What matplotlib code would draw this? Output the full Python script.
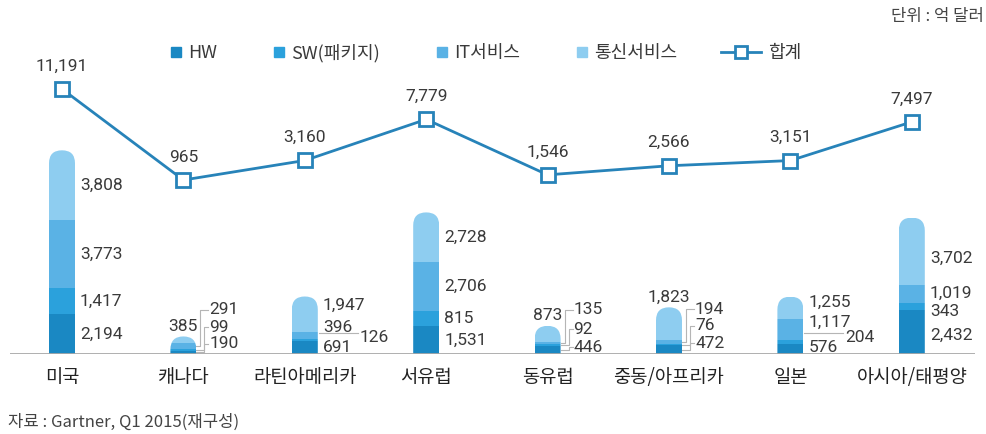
import numpy as np
import matplotlib
matplotlib.use("Agg")
import matplotlib.pyplot as plt
from matplotlib.patches import FancyBboxPatch
from matplotlib.lines import Line2D

plt.rcParams["font.family"] = ["Noto Sans CJK KR", "DejaVu Sans"]

# Data (억 달러)

categories = ["미국", "캐나다", "라틴아메리카", "서유럽",
              "동유럽", "중동/아프리카", "일본", "아시아/태평양"]
hw = [2194, 190, 691, 1531, 446, 472, 576, 2432]
sw = [1417, 99, 126, 815, 92, 76, 204, 343]
it_svc = [3773, 291, 396, 2706, 135, 194, 1117, 1019]
telecom = [3808, 385, 1947, 2728, 873, 1823, 1255, 3702]
totals = [11191, 965, 3160, 7779, 1546, 2566, 3151, 7497]

series_names = ["HW", "SW(패키지)", "IT서비스", "통신서비스"]
colors = ["#1a88c3", "#2ba1dc", "#5ab2e5", "#8ecdf0"]
line_color = "#2783b9"
text_color = "#3a3a3a"
num_font = ["Roboto", "DejaVu Sans"]
num_size = 12.5

# label placement per bar: (kind, px above baseline); None = segment middle
label_spots = [
    [None, None, None, None],
    [("bracket", 10), ("bracket", 27), ("bracket", 44), ("top", 0)],
    [("right", 7), ("far", 17), ("right", 27), ("right", 49)],
    [None, None, None, None],
    [("bracket", 7), ("bracket", 25), ("bracket", 44), ("top", 0)],
    [("bracket", 11), ("bracket", 28), ("bracket", 45), ("top", 0)],
    [("right", 7), ("far", 17), ("right", 32), ("right", 52)],
    [("right", 19), ("right", 42), ("right", 61), ("right", 96)],
]

# Layout in pixels

W, H = 986, 434
base_px, top_px = 354, 60
left_px, right_px = 10, 975
x0_px, cat_px = 62, 121.4
bar_scale = 0.0182          # px per unit (bars)
line_scale = 91 / 10226     # px per unit (total line)
line_zero_px = 188.6

fig = plt.figure(figsize=(W / 100, H / 100), dpi=100)
ax = fig.add_axes([left_px / W, 1 - base_px / H,
                   (right_px - left_px) / W, (base_px - top_px) / H])

ax.set_xlim((left_px - x0_px) / cat_px, (right_px - x0_px) / cat_px)
ax.set_ylim(0, (base_px - top_px) / bar_scale)

xu = 1 / cat_px
yu = 1 / bar_scale
x = np.arange(len(categories))
bw = 26 * xu

stack = [np.array(s) for s in (hw, sw, it_svc, telecom)]
bar_tops = np.sum(stack, axis=0)

# capsule shaped clip for each bar

caps = []
for i in range(len(x)):
    cap = FancyBboxPatch(
        (x[i] - bw / 2, -20 * yu), bw, bar_tops[i] + 20 * yu,
        boxstyle=f"round,pad=0,rounding_size={bw / 2}",
        mutation_aspect=yu / xu,
        transform=ax.transData
    )
    caps.append(cap)

bottom = np.zeros(len(x))
mids = []
for vals, c, name in zip(stack, colors, series_names):
    bars = ax.bar(x, vals, bw, bottom=bottom, color=c,
                  linewidth=0, zorder=2)
    for i, b in enumerate(bars):
        b.set_clip_path(caps[i])
    mids.append(bottom + vals / 2)
    bottom = bottom + vals

ax.axhline(0, color="#a8a8a8", lw=2, zorder=3)

# segment value labels

lead_kw = dict(color="#b5b5b5", lw=0.8, clip_on=False, zorder=1)
txt_kw = dict(va="center", fontsize=num_size, family=num_font,
              color=text_color)
for i in range(len(x)):
    xr = x[i] + bw / 2
    for j, vals in enumerate(stack):
        txt = f"{vals[i]:,}"
        spot = label_spots[i][j]
        kind, h = spot if spot else ("right", None)
        ly = mids[j][i] if h is None else h * yu
        if kind == "top":
            ax.text(x[i], bar_tops[i] + 10 * yu, txt, ha="center",
                    **txt_kw)
        elif kind == "right":
            ax.text(xr + 5 * xu, ly, txt, ha="left", **txt_kw)
        elif kind == "far":
            ax.plot([xr + 1 * xu, xr + 40 * xu],
                    [ly + 4 * yu, ly + 4 * yu], **lead_kw)
            ax.text(xr + 42 * xu, ly, txt, ha="left", **txt_kw)
        elif kind == "bracket":
            xv = xr + (4 if j == 2 else 8) * xu
            ax.plot([xr, xv, xv, xr + 12 * xu],
                    [mids[j][i], mids[j][i], ly, ly], **lead_kw)
            ax.text(xr + 13 * xu, ly, txt, ha="left", **txt_kw)

ax.set_xticks(x, categories)
ax.tick_params(axis="x", length=0, pad=9, labelsize=13.5,
               labelcolor="#222222")
ax.set_yticks([])
for s in ax.spines.values():
    s.set_visible(False)

# total line on its own scale

ax2 = ax.twinx()
ax2.set_ylim(-(base_px - line_zero_px) / line_scale,
             (line_zero_px - top_px) / line_scale)
ax2.plot(x, totals, color=line_color, lw=2, marker="s", ms=10,
         mfc="white", mec=line_color, mew=2, zorder=5)
for xi, v in zip(x, totals):
    ax2.annotate(f"{v:,}", (xi, v), xytext=(0, 23),
                 textcoords="offset pixels", ha="center", **txt_kw)
ax2.set_yticks([])
for s in ax2.spines.values():
    s.set_visible(False)

# legend

sq_handles = [
    Line2D([], [], marker="s", ls="none", ms=6.5, color=c)
    for c in colors
]
leg1 = fig.legend(
    sq_handles, series_names,
    loc="center left",
    bbox_to_anchor=(170 / W, 1 - 53 / H),
    ncol=4, frameon=False, fontsize=13,
    handlelength=0.7, handletextpad=0.3,
    columnspacing=3.1, borderpad=0, borderaxespad=0
)
for t in leg1.get_texts():
    t.set_color(text_color)

total_handle = Line2D([], [], color=line_color, lw=2, marker="s", ms=9,
                      mfc="white", mec=line_color, mew=2)
leg2 = fig.legend(
    [total_handle], ["합계"],
    loc="center left",
    bbox_to_anchor=(721 / W, 1 - 53 / H),
    frameon=False, fontsize=13,
    handlelength=2.2, handletextpad=0.4,
    borderpad=0, borderaxespad=0
)
for t in leg2.get_texts():
    t.set_color(text_color)

fig.text(984 / W, 1 - 16 / H, "단위 : 억 달러", ha="right", va="center",
         fontsize=12, color="#444444")
fig.text(8 / W, 1 - 422 / H, "자료 : Gartner, Q1 2015(재구성)",
         ha="left", va="center", fontsize=12, color="#444444")

fig.savefig("out.png", dpi=100)
plt.close(fig)
